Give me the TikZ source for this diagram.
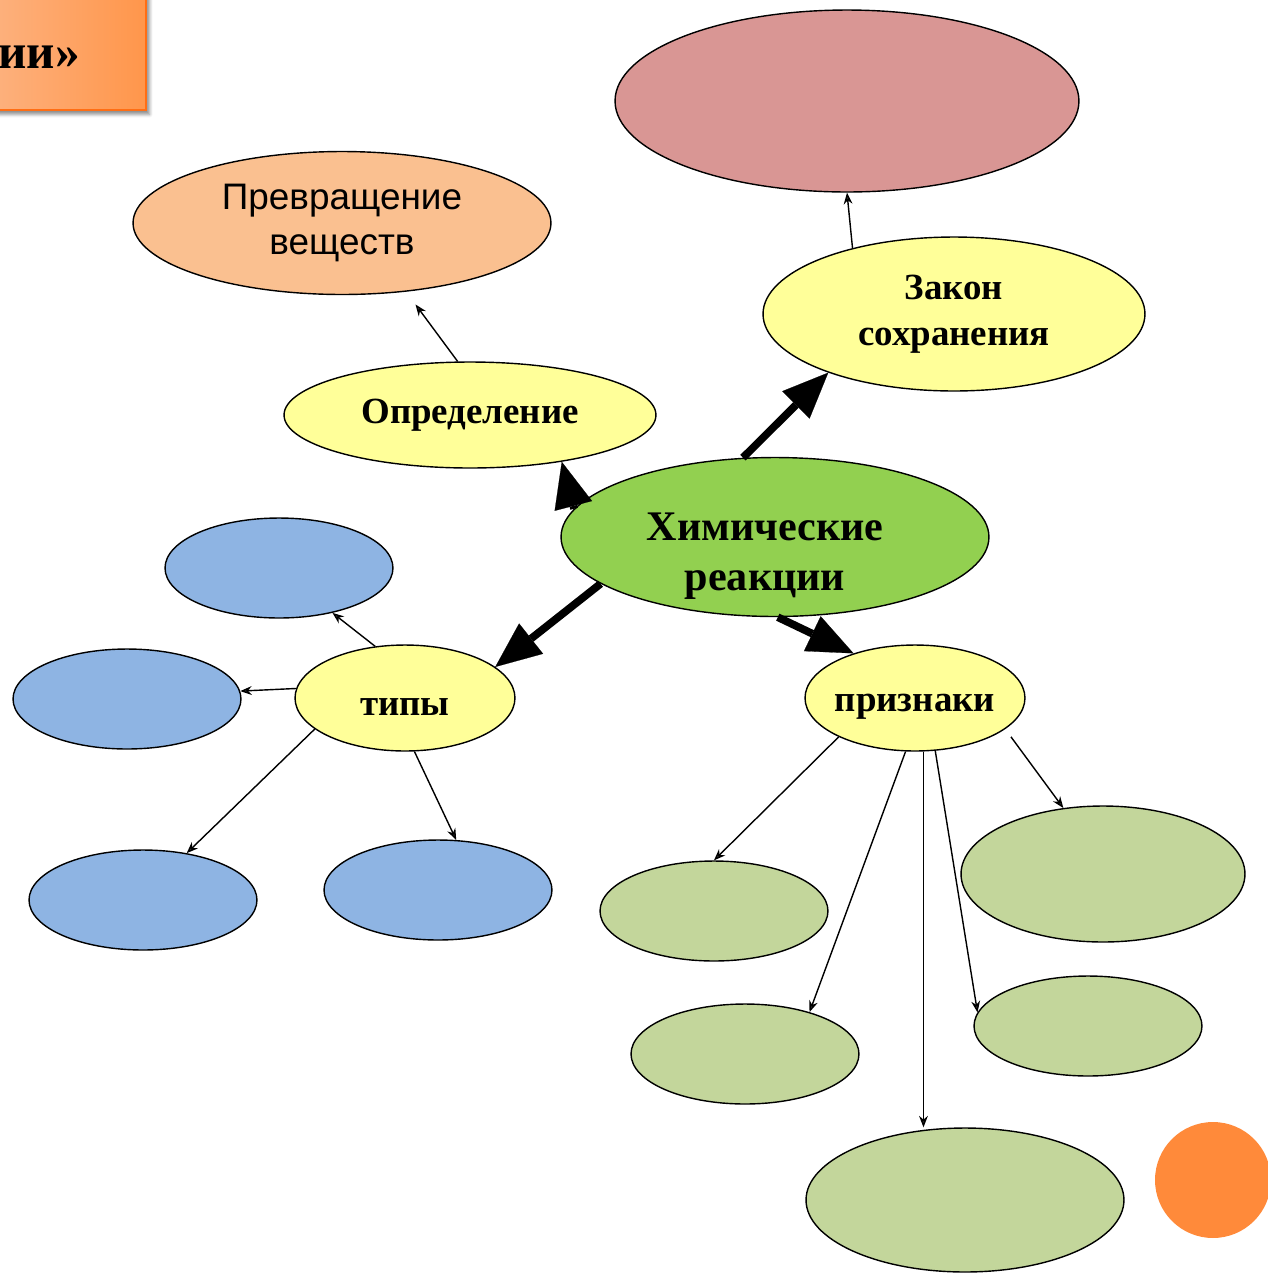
\documentclass[tikz,border=0pt]{standalone}
\usepackage{fontspec}
\setmainfont{Liberation Serif}
\newfontfamily\arialfont{Liberation Sans}
\usepackage{tikz}
\usetikzlibrary{arrows.meta,shapes.geometric,shadows.blur}
\definecolor{cRose}{RGB}{217,150,148}
\definecolor{cPeach}{RGB}{250,192,144}
\definecolor{cYell}{RGB}{255,255,153}
\definecolor{cChem}{RGB}{146,208,80}
\definecolor{cBlue}{RGB}{142,180,227}
\definecolor{cLeaf}{RGB}{195,214,155}
\definecolor{cDot}{RGB}{255,138,58}
\definecolor{cBoxL}{RGB}{252,190,150}
\definecolor{cBoxR}{RGB}{255,150,75}
\definecolor{cBoxLine}{RGB}{255,110,20}

\begin{document}
\begin{tikzpicture}[x=0.02cm,y=-0.02cm,
  bubble/.style={ellipse,draw=black,line width=0.8pt,fill=#1,inner sep=0pt,align=center,
    font=\bfseries\fontsize{21}{26}\selectfont},
  bigarrow/.style={line width=4.4pt,-{Triangle[length=26pt,width=22pt,line width=0.1pt,fill=black]}},
  thinarrow/.style={line width=0.8pt,-{Stealth[length=6.5pt,width=5pt]}}]
  \clip (0,0) rectangle (1268,1276);
  \path[blur shadow={shadow xshift=2pt,shadow yshift=-2.5pt,shadow opacity=45},
    left color=cBoxL,right color=cBoxR,draw=cBoxLine,line width=1.5pt] (-80,-30) rectangle (146,110);
  \node[font=\bfseries\fontsize{28}{30}\selectfont,anchor=base east,inner sep=0pt] (title) at (80,68) {ии»};

  \node[bubble=cRose,minimum width=9.28cm,minimum height=3.64cm] (zakontop) at (847,101) {};
  \node[bubble=cPeach,minimum width=8.36cm,minimum height=2.86cm,
    font=\arialfont\fontsize{21}{26}\selectfont] (prevr) at (342,223) {Превращение\\веществ};
  \node[bubble=cYell,minimum width=7.44cm,minimum height=2.12cm] (opred) at (470,415) {Определение};
  \node[bubble=cYell,minimum width=7.64cm,minimum height=3.08cm] (zakon) at (954,314) {Закон\\сохранения};
  \node[bubble=cChem,minimum width=8.56cm,minimum height=3.18cm] (chem) at (775,537) {};
  \node[font=\bfseries\fontsize{24}{28.3}\selectfont,align=center,inner sep=0pt] (chemtext) at (765,556) {Химические\\реакции};
  \node[bubble=cYell,minimum width=4.4cm,minimum height=2.12cm] (tipy) at (405,698)
    {\makebox[0pt]{\raisebox{-5pt}[\height][\depth]{типы}}};
  \node[bubble=cYell,minimum width=4.4cm,minimum height=2.12cm] (priz) at (915,698)
    {\makebox[0pt]{\raisebox{-5pt}[\height][\depth]{признаки}}};

  \node[bubble=cBlue,minimum width=4.56cm,minimum height=2cm] (tip1) at (279,568) {};
  \node[bubble=cBlue,minimum width=4.56cm,minimum height=2cm] (tip2) at (127,699) {};
  \node[bubble=cBlue,minimum width=4.56cm,minimum height=2cm] (tip3) at (143,900) {};
  \node[bubble=cBlue,minimum width=4.56cm,minimum height=2cm] (tip4) at (438,890) {};

  \node[bubble=cLeaf,minimum width=4.56cm,minimum height=2cm] (priz1) at (714,911) {};
  \node[bubble=cLeaf,minimum width=5.68cm,minimum height=2.72cm] (priz2) at (1103,874) {};
  \node[bubble=cLeaf,minimum width=4.56cm,minimum height=2cm] (priz3) at (745,1054) {};
  \node[bubble=cLeaf,minimum width=4.56cm,minimum height=2cm] (priz4) at (1088,1026) {};
  \node[bubble=cLeaf,minimum width=6.36cm,minimum height=2.88cm] (priz5) at (965,1200) {};
  \node[circle,fill=cDot,minimum size=2.32cm,inner sep=0pt] (dot) at (1213,1180) {};

  \draw[bigarrow] (chem.172) -- (opred.-27);
  \draw[bigarrow] (chem.112) -- (zakon.205);
  \draw[bigarrow] (chem.195) -- (tipy.19);
  \draw[bigarrow] (chem.-88) -- (priz.144);

  \draw[thinarrow] (zakon.147) -- (zakontop.south);
  \draw[thinarrow,shorten >=9pt] (opred.103) -- (prevr.-47);
  \draw[thinarrow] (tipy.120) -- (tip1.-40);
  \draw[thinarrow] (tipy.175) -- (tip2.4);
  \draw[thinarrow] (tipy.199) -- (tip3.47);
  \draw[thinarrow] (tipy.-80) -- (tip4.70);
  \draw[thinarrow] (priz.207) -- (priz1.north);
  \draw[thinarrow] (priz.-100) -- (priz3.33);
  \draw[thinarrow] (priz.-81) -- (priz.-81 |- priz5.north);
  \draw[thinarrow] (priz.-69) -- (priz4.173);
  \draw[thinarrow,shorten <=5.5pt] (priz.-19) -- (priz2.121);
\end{tikzpicture}
\end{document}
